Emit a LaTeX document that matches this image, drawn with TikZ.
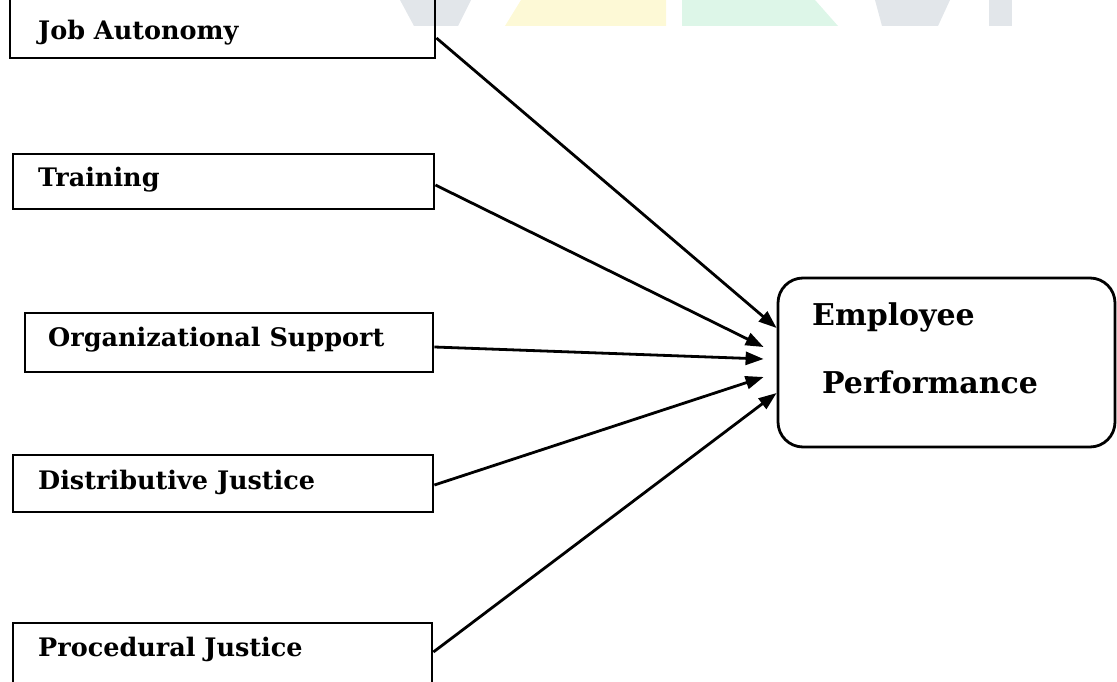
\documentclass[tikz,border=0pt]{standalone}
\usepackage{fontspec}
\setmainfont{DejaVu Serif}
\usetikzlibrary{arrows.meta}
\definecolor{wmgray}{HTML}{E2E6EA}
\definecolor{wmyellow}{HTML}{FDF9D6}
\definecolor{wmgreen}{HTML}{DDF6E8}
\begin{document}
\begin{tikzpicture}[x=1pt,y=-1pt,
  box/.style={draw, line width=2.8pt, inner sep=0pt},
  lbl/.style={inner sep=0pt, anchor=west, font=\bfseries\fontsize{25.5}{30}\selectfont},
  eplbl/.style={inner sep=0pt, anchor=west, font=\bfseries\fontsize{30}{36}\selectfont},
  conn/.style={line width=2.8pt, -{Triangle[length=18pt,width=13pt]}}]
\useasboundingbox (0,0) rectangle (1117,682);
\clip (0,0) rectangle (1117,682);
% faint watermark at the top
\fill[wmgray] (400,0) -- (471,0) -- (458,26) -- (414,26) -- cycle;
\fill[wmyellow] (521,0) -- (666,0) -- (666,26) -- (505,26) -- cycle;
\fill[wmgreen] (682,0) -- (815,0) -- (838,26) -- (682,26) -- cycle;
\fill[wmgray] (875,0) -- (950,0) -- (938,26) -- (882,26) -- cycle;
\fill[wmgray] (989,0) -- (1012,0) -- (1012,26) -- (989,26) -- cycle;
% boxes
\node[box, minimum width=425pt, minimum height=63pt] (ja) at (222.5,26.5) {};
\node[box, minimum width=421pt, minimum height=55pt] (tr) at (223.5,181.5) {};
\node[box, minimum width=408pt, minimum height=59pt] (os) at (229,342.5) {};
\node[box, minimum width=420pt, minimum height=57pt] (dj) at (223,483.5) {};
\node[box, minimum width=419pt, minimum height=67pt] (pj) at (222.5,656.5) {};
\node[lbl] (jal) at (38,33) {Job Autonomy};
\node[lbl] (trl) at (38,180) {Training};
\node[lbl] (osl) at (48,340) {Organizational Support};
\node[lbl] (djl) at (38,482) {Distributive Justice};
\node[lbl] (pjl) at (38,649) {Procedural Justice};
% outcome
\node[box, rounded corners=25pt, minimum width=337pt, minimum height=169pt] (ep) at (946.5,362.5) {};
\node[eplbl] (ep1) at (812,317) {Employee};
\node[eplbl] (ep2) at (822,382) {Performance};
% arrow targets
\path (ep.west) ++(0,-34.5) coordinate (t1);
\path (ep.west) ++(-13,-15.5) coordinate (t2);
\path (ep.west) ++(-13,-3.5) coordinate (t3);
\path (ep.west) ++(-13,14.5) coordinate (t4);
\path (ep.west) ++(0,30.5) coordinate (t5);
% connectors
\draw[conn] (ja.east) ++(0,11.5) -- (t1);
\draw[conn] (tr.east) ++(0,3.5) -- (t2);
\draw[conn] (os.east) ++(0,4.5) -- (t3);
\draw[conn] (dj.east) ++(0,1.5) -- (t4);
\draw[conn] (pj.east) ++(0,-4.5) -- (t5);
\end{tikzpicture}
\end{document}
